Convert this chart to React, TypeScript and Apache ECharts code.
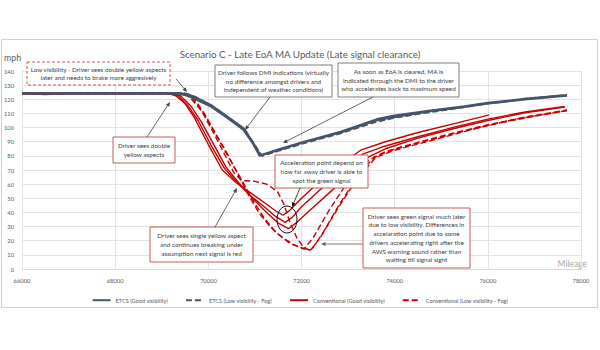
import React, { useEffect, useRef } from "react";
import * as echarts from "echarts";

const FONT = 'Lato, "Liberation Sans", sans-serif';
const BLUE = "#44546A";
const RED = "#C80000";

const xTicks = { min: 66000, max: 78000, interval: 2000 };
const yTicks = { min: 0, max: 140, interval: 10 };

const legendNames = [
  "ETCS (Good visibility)",
  "ETCS (Low visibility - Fog)",
  "Conventional (Good visibility)",
  "Conventional (Low visibility - Fog)",
];

const etcsGood1 = [[66000,124.5],[69400,124.5],[69600,123],[69750,121],[69900,118.5],[70050,116],[70400,108],[70760,99.5],[70950,90],[71120,80.5],[71500,84.5],[72000,89.5],[72840,97],[73620,106],[74000,108.5],[74770,112],[75500,115],[76000,117.5],[76850,120.5],[77700,123]];
const etcsGood2 = [[66000,124],[69350,124],[69550,122.5],[69700,120.5],[69850,118],[70050,115],[70400,107],[70750,98.5],[70950,89],[71100,80],[71500,84],[72000,89],[72840,96.5],[73600,105],[74000,107.5],[74770,111.5],[75500,114.5],[76000,117],[76850,120],[77700,122.5]];
const etcsFog1 = [[66000,124.5],[69450,124.5],[69650,122.5],[69800,120.5],[69950,117.5],[70100,115],[70450,106.5],[70780,98.5],[70970,89],[71150,80],[71500,83.5],[72000,88.5],[72840,96],[73600,104],[74000,107],[74770,111],[75500,114.5],[76000,117],[76850,120.5],[77700,123]];

const convGood1 = [[66000,124],[66500,123.3],[67000,124],[69150,124],[69300,122.5],[69500,117],[69700,107],[70000,88],[70300,70],[70600,61],[70900,54],[71200,47],[71450,41],[71600,38],[71750,41.5],[72000,50],[72400,62],[72800,73],[73270,84],[73800,90],[74500,96.5],[75300,103],[76030,109]];
const convGood2 = [[66000,124],[69200,124],[69350,122.5],[69550,116],[69780,105],[70050,88],[70350,71],[70620,61],[70900,52],[71200,44],[71450,37],[71650,33],[71800,36.5],[72000,44],[72400,56],[72800,68],[73300,81],[73800,87],[74500,93.5],[75300,100.5],[76000,106],[76800,111],[77650,115]];
const convGood3 = [[66000,124],[69250,124],[69400,122.5],[69620,115.5],[69850,104],[70100,89],[70380,72],[70650,61],[70950,50],[71250,40],[71500,32.5],[71720,28.5],[71900,33],[72200,42],[72600,54],[73000,66],[73400,78.5],[73800,85],[74500,92.5],[75300,99.5],[76000,105],[76800,110.5],[77650,114.5]];

const convFog1 = [[66000,124],[69450,124],[69600,121.5],[69850,112],[70100,97],[70350,81],[70550,68],[70720,62.5],[71000,62],[71250,60],[71480,55],[71620,46],[71750,33],[71900,22],[72050,15],[72200,13],[72450,25],[72800,45],[73200,65],[73550,79],[74000,85],[75000,94],[76000,102],[76900,108],[77700,112.5]];
const convFog2 = [[66000,124],[69500,124],[69650,121],[69900,110],[70150,96],[70400,82],[70650,66],[70900,50],[71100,39],[71350,29],[71600,22],[71850,17],[72050,14],[72250,22],[72600,42],[73000,62],[73400,76],[73800,83],[74500,89],[75300,96],[76200,103],[77000,108],[77700,112]];
const convFog3 = [[66000,124],[69550,124],[69700,120.5],[69950,108],[70200,93],[70450,78],[70700,64],[70950,49],[71200,36],[71450,26],[71750,18],[72000,15],[72200,13.5],[72400,22],[72800,44],[73200,64],[73600,79],[74000,84],[74800,91],[75700,99],[76600,106],[77700,112]];

const notes = {
  lowVis: "Low visibility - Driver sees double yellow aspects\nlater and needs to brake more aggresively",
  dmi: "Driver follows DMI indications (virtually\nno difference amongst drivers and\nindependent of weather conditions)",
  eoa: "As soon as EoA is cleared, MA is\nindicated through the DMI to the driver\nwho accelerates back to maximum speed",
  dbl: "Driver sees double\nyellow aspects",
  accel: "Acceleration point depend on\nhow far away driver is able to\nspot the green signal",
  single: "Driver sees single yellow aspect\nand continues breaking under\nassumption next signal is red",
  green: "Driver sees green signal much later\ndue to low visibility. Differences in\naccelaration point due to some\ndrivers accelerating right after the\nAWS warning sound rather than\nwaiting till signal sight",
};

const RED_BORDER = "#C9585A";
const GRAY_BORDER = "#7F7F7F";
const NOTE_FS = 6.4;

function box(x1: number, y1: number, x2: number, y2: number, text: string, border: string, dashed = false) {
  return {
    type: "group",
    z: 100,
    children: [
      {
        type: "rect",
        shape: { x: x1, y: y1, width: x2 - x1, height: y2 - y1 },
        style: { fill: "#ffffff", stroke: border, lineWidth: 1, lineDash: dashed ? [3, 2] : null },
        z: 100,
      },
      {
        type: "text",
        x: (x1 + x2) / 2,
        y: (y1 + y2) / 2,
        style: {
          text,
          fontSize: NOTE_FS,
          fontFamily: FONT,
          lineHeight: 8.7,
          fill: "#404040",
          align: "center",
          verticalAlign: "middle",
        },
        z: 101,
      },
    ],
  };
}

function arrow(x1: number, y1: number, x2: number, y2: number, color = "#404040") {
  const a = Math.atan2(y2 - y1, x2 - x1);
  const L = 4.5, W = 2;
  const bx = x2 - L * Math.cos(a), by = y2 - L * Math.sin(a);
  return {
    type: "group",
    z: 102,
    children: [
      { type: "line", shape: { x1, y1, x2: bx, y2: by }, style: { stroke: color, lineWidth: 0.8 }, z: 102 },
      {
        type: "polygon",
        shape: { points: [[x2, y2], [bx + W * Math.sin(a), by - W * Math.cos(a)], [bx - W * Math.sin(a), by + W * Math.cos(a)]] },
        style: { fill: color },
        z: 102,
      },
    ],
  };
}

function lineSeries(name: string, data: number[][], color: string, width: number, dashed: boolean) {
  return {
    type: "line",
    name,
    data,
    showSymbol: false,
    symbol: "none",
    smooth: false,
    lineStyle: { color, width, type: dashed ? [6, 3] : "solid" },
    itemStyle: { color },
    emphasis: { disabled: true },
  };
}

export default function App() {
  const ref = useRef<HTMLDivElement>(null);
  useEffect(() => {
    if (!ref.current) return;
    const chart = echarts.init(ref.current, null, { renderer: "svg" });
    chart.setOption({
      animation: false,
      backgroundColor: "#ffffff",
      textStyle: { fontFamily: FONT },
      title: {
        text: "Scenario C - Late EoA MA Update (Late signal clearance)",
        left: "center",
        top: 44,
        textStyle: { fontSize: 9.8, fontWeight: "normal", color: "#595959", fontFamily: FONT },
      },
      grid: { left: 22, right: 19, top: 71, bottom: 81, containLabel: false },
      legend: {
        data: legendNames,
        left: "center",
        top: 292,
        itemWidth: 18,
        itemHeight: 8,
        itemGap: 17,
        itemStyle: { opacity: 0 },
        textStyle: { fontSize: 5.6, color: "#595959", fontFamily: FONT },
      },
      xAxis: {
        type: "value",
        min: xTicks.min,
        max: xTicks.max,
        interval: xTicks.interval,
        axisLine: { show: true, lineStyle: { color: "#d9d9d9" } },
        axisTick: { show: false },
        axisLabel: { fontSize: 5.8, color: "#595959", margin: 8, fontFamily: FONT, formatter: (v: number) => String(v) },
        splitLine: { show: true, lineStyle: { color: "#e3e3e3", width: 1 } },
      },
      yAxis: {
        type: "value",
        min: yTicks.min,
        max: yTicks.max,
        interval: yTicks.interval,
        axisLine: { show: false },
        axisTick: { show: false },
        axisLabel: { fontSize: 5.8, color: "#595959", margin: 8, fontFamily: FONT },
        splitLine: { show: true, lineStyle: { color: "#e3e3e3", width: 1 } },
      },
      series: [
        lineSeries(legendNames[2], convGood1, RED, 1.4, false),
        lineSeries(legendNames[2], convGood2, RED, 1.4, false),
        lineSeries(legendNames[2], convGood3, RED, 1.4, false),
        lineSeries(legendNames[3], convFog1, RED, 1.4, true),
        lineSeries(legendNames[3], convFog2, RED, 1.4, true),
        lineSeries(legendNames[3], convFog3, RED, 1.4, true),
        lineSeries(legendNames[0], etcsGood1, BLUE, 2, false),
        lineSeries(legendNames[0], etcsGood2, BLUE, 2, false),
        lineSeries(legendNames[1], etcsFog1, BLUE, 2, true),
      ],
      graphic: [
        { type: "rect", shape: { x: 1.5, y: 39.5, width: 596, height: 268 }, style: { fill: "none", stroke: "#d0d0d0", lineWidth: 1 }, z: -10 },
        { type: "text", x: 4, y: 57, style: { text: "mph", fontSize: 8.8, fill: "#595959", fontFamily: FONT, verticalAlign: "middle" } },
        { type: "text", x: 587, y: 264, style: { text: "Mileage", fontSize: 8.5, fill: "#a6a6a6", fontFamily: FONT, align: "right", verticalAlign: "middle" } },
        box(27, 62, 170, 85, notes.lowVis, RED_BORDER, true),
        box(215, 65, 332, 97, notes.dmi, GRAY_BORDER),
        box(338, 63, 459, 97, notes.eoa, GRAY_BORDER),
        box(113, 137, 175, 163, notes.dbl, RED_BORDER),
        box(275, 155, 368, 188, notes.accel, RED_BORDER),
        box(150, 227, 253, 262, notes.single, RED_BORDER),
        box(363, 208, 470, 268, notes.green, RED_BORDER),
        arrow(176, 79, 187, 92),
        arrow(270, 97, 245, 130),
        arrow(373, 97, 283, 143),
        arrow(147, 137, 170, 102),
        arrow(300, 188, 292, 207, "#111111"),
        arrow(215, 227, 237, 188),
        arrow(363, 244, 321, 244, "#595959"),
        { type: "ellipse", shape: { cx: 287, cy: 219.5, rx: 10, ry: 13.5 }, style: { fill: "none", stroke: "#111111", lineWidth: 1 }, z: 103 },
      ],
    });
    return () => chart.dispose();
  }, []);
  return <div ref={ref} style={{ position: "fixed", left: 0, top: 0, width: 600, height: 350 }} />;
}
